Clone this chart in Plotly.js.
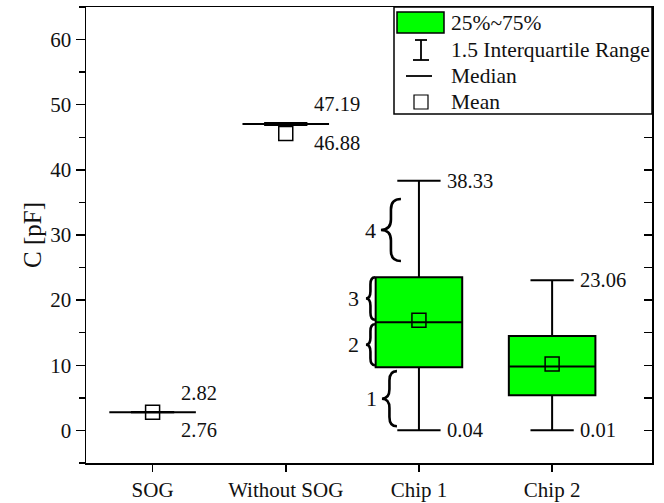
<!DOCTYPE html>
<html>
<head>
<meta charset="utf-8">
<script src="https://cdn.plot.ly/plotly-3.0.1.min.js"></script>
<style>html,body{margin:0;padding:0;background:#fff;}#chart{width:664px;height:503px;}</style>
</head>
<body>
<div id="chart"></div>
<script>
// ---- data ----
const categories = ["SOG", "Without SOG", "Chip 1", "Chip 2"];
const q1 = [2.79, 47.05, 9.7, 5.4];
const median = [2.79, 47.05, 16.6, 9.8];
const q3 = [2.79, 47.05, 23.5, 14.5];
const lowerFence = [2.76, 46.88, 0.04, 0.01];
const upperFence = [2.82, 47.19, 38.33, 23.06];
const means = [2.8, 45.6, 16.9, 10.2];
const minLabels = ["2.76", "46.88", "0.04", "0.01"];
const maxLabels = ["2.82", "47.19", "38.33", "23.06"];
const yTicks = [0, 10, 20, 30, 40, 50, 60];
const legendLabels = ["25%~75%", "1.5 Interquartile Range", "Median", "Mean"];
const braceLabels = ["1", "2", "3", "4"];

// ---- layout helpers ----
const FONT = "Liberation Serif, Times New Roman, serif";
const TXT = "#111";
const L = 86, T = 7, W = 566, H = 456;
const px = x => (x - L) / W;
const py = y => 1 - (y - T) / H;

const boxTrace = {
  type: "box",
  x: categories,
  q1: q1, median: median, q3: q3,
  lowerfence: lowerFence, upperfence: upperFence,
  boxpoints: false,
  width: 0.65,
  whiskerwidth: 0.5,
  fillcolor: "#00ff00",
  line: {color: "#000", width: 2},
  hoverinfo: "skip",
  showlegend: false
};
const meanTrace = {
  type: "scatter", mode: "markers",
  x: categories, y: means,
  marker: {symbol: "square-open", size: 14, color: "#000", line: {width: 1.5, color: "#000"}},
  hoverinfo: "skip", showlegend: false
};
const dummyY2 = {type: "scatter", mode: "markers", x: [categories[0]], y: [0], yaxis: "y2",
  marker: {opacity: 0}, hoverinfo: "skip", showlegend: false};

const annotations = [];
const shapes = [];

// value labels
categories.forEach((c, i) => {
  const flat = i < 2;
  annotations.push({xref: "x", yref: "y", x: i, y: upperFence[i], xshift: 26, yshift: flat ? 19 : 0,
    xanchor: "left", yanchor: "middle", text: maxLabels[i], showarrow: false, font: {family: FONT, size: 20.5, color: TXT}});
  annotations.push({xref: "x", yref: "y", x: i, y: lowerFence[i], xshift: 26, yshift: flat ? -18 : 0,
    xanchor: "left", yanchor: "middle", text: minLabels[i], showarrow: false, font: {family: FONT, size: 20.5, color: TXT}});
});

// braces for Chip 1
const ci = 2;
const braceSpans = [
  [lowerFence[ci] + 0.6, q1[ci] - 0.6],
  [q1[ci] + 0.3, median[ci] - 0.3],
  [median[ci] + 0.4, q3[ci]],
  [q3[ci] + 2.5, upperFence[ci] - 2.8]
];
const braceX = [[-37, -22, -47], [-53, -44, -65], [-53, -44, -65], [-38, -18, -48]];
braceSpans.forEach((s, k) => {
  const yB = s[0], yT = s[1], yM = (yB + yT) / 2;
  const xt = braceX[k][0], xe = braceX[k][1], xm = (xt + xe) / 2;
  const d = Math.min(1.6, 0.17 * (yT - yB));
  const path = `M${xe},${yT} Q${xm},${yT} ${xm},${yT - d} L${xm},${yM + d} Q${xm},${yM} ${xt},${yM} ` +
               `Q${xm},${yM} ${xm},${yM - d} L${xm},${yB + d} Q${xm},${yB} ${xe},${yB}`;
  shapes.push({type: "path", xref: "x", yref: "y", xsizemode: "pixel", xanchor: ci, path: path,
    line: {color: "#000", width: 2.6}});
  annotations.push({xref: "x", yref: "y", x: ci, y: yM, xshift: braceX[k][2], xanchor: "center", yanchor: "middle",
    text: braceLabels[k], showarrow: false, font: {family: FONT, size: 22, color: TXT}});
});

// legend (manual)
shapes.push({type: "rect", xref: "paper", yref: "paper", x0: px(394), x1: px(652), y0: py(114), y1: py(7),
  fillcolor: "#fff", line: {color: "#000", width: 1.5}, layer: "above"});
shapes.push({type: "rect", xref: "paper", yref: "paper", x0: px(397), x1: px(444), y0: py(33), y1: py(12),
  fillcolor: "#00ff00", line: {color: "#000", width: 1.5}});
shapes.push({type: "line", xref: "paper", yref: "paper", x0: px(421), x1: px(421), y0: py(40), y1: py(60), line: {color: "#000", width: 1.8}});
shapes.push({type: "line", xref: "paper", yref: "paper", x0: px(415), x1: px(427), y0: py(40), y1: py(40), line: {color: "#000", width: 1.8}});
shapes.push({type: "line", xref: "paper", yref: "paper", x0: px(413), x1: px(429), y0: py(60), y1: py(60), line: {color: "#000", width: 1.8}});
shapes.push({type: "line", xref: "paper", yref: "paper", x0: px(406), x1: px(432), y0: py(76), y1: py(76), line: {color: "#000", width: 1.8}});
shapes.push({type: "rect", xref: "paper", yref: "paper", x0: px(414), x1: px(428), y0: py(109), y1: py(95), line: {color: "#000", width: 1.2}});
const legY = [23, 50, 76, 102];
legendLabels.forEach((t, k) => annotations.push({xref: "paper", yref: "paper", x: px(449), y: py(legY[k]),
  xanchor: "left", yanchor: "middle", text: t, showarrow: false, font: {family: FONT, size: 21.5, color: TXT}}));

const layout = {
  width: 664, height: 503,
  margin: {l: L, r: 664 - L - W, t: T, b: 503 - T - H},
  paper_bgcolor: "#fff", plot_bgcolor: "#fff",
  font: {family: FONT, size: 21, color: TXT},
  showlegend: false,
  xaxis: {type: "category", categoryarray: categories, range: [-0.5, 3.75],
    showline: true, linecolor: "#000", linewidth: 1.5, mirror: true,
    ticks: "outside", ticklen: 7, tickwidth: 1.5, tickcolor: "#000",
    showgrid: false, zeroline: false, tickfont: {family: FONT, size: 21, color: TXT}},
  yaxis: {range: [-5, 65], tickvals: yTicks, ticktext: yTicks.map(String),
    showline: true, linecolor: "#000", linewidth: 1.5,
    ticks: "outside", ticklen: 9, tickwidth: 1.5, tickcolor: "#000",
    minor: {dtick: 5, ticks: "outside", ticklen: 6, tickwidth: 1.5, tickcolor: "#000", showgrid: false},
    showgrid: false, zeroline: false, tickfont: {family: FONT, size: 21, color: TXT},
    title: {text: "C [pF]", font: {family: FONT, size: 25, color: TXT}, standoff: 1}},
  yaxis2: {overlaying: "y", side: "right", range: [-5, 65], dtick: 5, tick0: 0,
    showline: true, linecolor: "#000", linewidth: 1.5,
    ticks: "inside", ticklen: 8, tickwidth: 1.5, tickcolor: "#000",
    showticklabels: false, showgrid: false, zeroline: false},
  shapes: shapes,
  annotations: annotations
};

Plotly.newPlot("chart", [boxTrace, meanTrace, dummyY2], layout, {staticPlot: true});
</script>
</body>
</html>
